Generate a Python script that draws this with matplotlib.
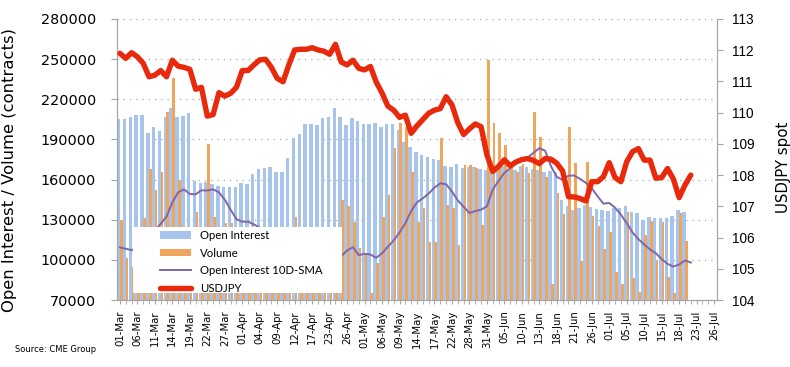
import numpy as np
import pandas as pd
import matplotlib
matplotlib.use("Agg")
import matplotlib.pyplot as plt
from matplotlib.patches import Patch, Rectangle
from matplotlib.lines import Line2D

# ---- categories (CME trading days) ----
holidays = ["2019-04-19", "2019-05-27", "2019-07-04"]
dates = pd.bdate_range("2019-03-01", "2019-07-26", freq="C", holidays=holidays)
tick_labels = [d.strftime("%d-%b") for d in dates[::3]]

# ---- series ----
open_interest = [
    205300, 205000, 207000, 208000, 208500, 195000, 199500, 196300, 207000, 213200,
    207000, 207800, 209500, 159100, 157600, 158400, 156600, 155200, 154700, 154700,
    154200, 157100, 156400, 163900, 167900, 168400, 169100, 165900, 165900, 175800,
    190800, 194000, 201300, 201300, 200800, 205700, 207000, 213700, 207000, 200800,
    205700, 203700, 201300, 201300, 202000, 199500, 201300, 201300, 197000, 188300,
    184600, 180800, 178300, 177100, 175300, 174600, 170400, 169600, 171300, 168900,
    169600, 169600, 167900, 167000, 166000, 168000, 170000, 168000, 167000, 170000,
    169500, 168000, 167000, 166000, 166500, 165500, 145000, 140000, 137300, 138500,
    141000, 139300, 138000, 137300, 136800, 138500, 138500, 140000, 136000, 134800,
    130000, 132300, 131100, 131100, 131100, 132500, 137200, 136000,
]
volume = [
    130000, 101600, 95000, 88000, 131000, 168000, 152000, 166000, 210700, 236100,
    160000, 110000, 95000, 136000, 105000, 186300, 132300, 100000, 127200, 127200,
    112000, 98000, 85000, 105000, 92000, 110000, 88000, 96000, 102000, 90000,
    132000, 100000, 92000, 108000, 95000, 112000, 99000, 118000, 144700, 140000,
    128000, 108600, 104000, 75000, 97400, 132300, 148500, 183400, 202500, 199000,
    166000, 128500, 138500, 113500, 113500, 190800, 141000, 138500, 111000, 170800,
    170800, 168400, 126000, 249300, 202500, 194500, 185800, 171000, 166000, 172000,
    165000, 210700, 192000, 162000, 82000, 150000, 134500, 199500, 172300, 99500,
    173000, 132800, 125000, 108200, 121000, 91200, 82000, 135500, 86200, 76200,
    118500, 129000, 99900, 128000, 87400, 75500, 135000, 113800,
]
oi_sma_10d = [
    109300, 108300, 107300, 108500, 112000, 116500, 121500, 127000, 132300, 143000,
    150500, 152700, 149200, 149000, 152000, 151800, 152700, 150500, 145000, 137500,
    130500, 128500, 128500, 126500, 124000, 121000, 118000, 115500, 113500, 112000,
    111000, 110000, 109000, 108000, 107000, 106000, 105000, 104000, 102800, 107000,
    109500, 103500, 104500, 104000, 101500, 105000, 109800, 114500, 120500, 127500,
    136500, 143000, 146000, 149500, 154000, 157200, 156500, 151000, 144500, 139700,
    135000, 136500, 137500, 140000, 152500, 159000, 165000, 168500, 172200, 174000,
    176500, 180000, 183500, 181500, 170000, 162000, 159800, 162900, 163000, 160500,
    157500, 153500, 147500, 142000, 142500, 139000, 133800, 127500, 120500, 115500,
    111500, 107800, 105000, 100500, 97000, 95000, 96500, 99600, 98000,
]
usdjpy = [
    111.90, 111.74, 111.92, 111.79, 111.58, 111.15, 111.20, 111.35, 111.15, 111.68,
    111.49, 111.45, 111.39, 110.75, 110.81, 109.89, 109.94, 110.64, 110.53, 110.62,
    110.81, 111.35, 111.35, 111.53, 111.69, 111.71, 111.45, 111.10, 110.99, 111.53,
    112.01, 112.03, 112.03, 112.08, 112.01, 111.97, 111.87, 112.19, 111.62, 111.53,
    111.68, 111.42, 111.37, 111.48, 110.98, 110.63, 110.21, 110.08, 109.85, 109.92,
    109.34, 109.58, 109.78, 109.98, 110.08, 110.13, 110.51, 110.25, 109.68, 109.30,
    109.48, 109.64, 109.55, 108.65, 108.12, 108.28, 108.49, 108.30, 108.42, 108.50,
    108.53, 108.47, 108.37, 108.53, 108.51, 108.38, 108.13, 107.31, 107.30, 107.25,
    107.17, 107.79, 107.79, 107.95, 108.40, 107.92, 107.79, 108.43, 108.75, 108.85,
    108.48, 108.48, 107.90, 107.92, 108.21, 107.88, 107.28, 107.68, 108.00,
]

C_OI = "#a6c4ec"
C_VOL = "#f0a55d"
C_SMA = "#8066a8"
C_FX = "#e8290b"
C_AX = "#a6a6a6"

fig = plt.figure(figsize=(7.9, 3.67), dpi=100)
ax = fig.add_axes([117 / 790, 67 / 367, 600 / 790, 281 / 367])
x = np.arange(len(dates))

nb = len(open_interest)
ax.bar(x[:nb] - 0.2, open_interest, width=0.6, color=C_OI, zorder=2, linewidth=0)
ax.bar(x[:nb] + 0.22, volume, width=0.46, color=C_VOL, zorder=3, linewidth=0)
ax.plot(x[:len(oi_sma_10d)], oi_sma_10d, color=C_SMA, lw=1.4, zorder=4)

ax.set_xlim(-0.5, len(dates) - 0.5)
ax.set_ylim(70000, 280000)
ax.set_yticks(np.arange(70000, 280001, 30000))
ax.set_yticklabels([str(v) for v in range(70000, 280001, 30000)],
                   fontsize=10.4, family="DejaVu Sans")
ax.yaxis.grid(True, linestyle=(0, (1, 4)), color="#a8a8a8", lw=0.9, zorder=0)
ax.set_axisbelow(True)

ax.set_xticks(x[::3])
ax.set_xticklabels(tick_labels, rotation=90, fontsize=7.3, family="DejaVu Sans")
ax.set_xticks(x, minor=True)
ax.tick_params(axis="x", which="both", length=3, color=C_AX, pad=4.5)
ax.tick_params(axis="y", length=4, color=C_AX, pad=11)

ax.spines["top"].set_visible(False)
for s in ["left", "bottom", "right"]:
    ax.spines[s].set_color(C_AX)

ax.set_ylabel("Open Interest / Volume (contracts)", fontsize=11.8, family="DejaVu Sans")
ax.yaxis.set_label_coords(-0.166, 0.463)

ax2 = ax.twinx()
ax2.plot(x[:len(usdjpy)], usdjpy, color=C_FX, lw=3.9, solid_joinstyle="round",
         solid_capstyle="round", zorder=5)
ax2.set_ylim(104, 113)
ax2.set_yticks(np.arange(104, 114, 1))
ax2.set_yticklabels([str(v) for v in range(104, 114)], fontsize=9.8,
                    family="Liberation Sans")
ax2.tick_params(axis="y", length=4, color=C_AX, pad=7)
ax2.spines["top"].set_visible(False)
for s in ["left", "bottom", "right"]:
    ax2.spines[s].set_color(C_AX)
ax2.set_ylabel("USDJPY spot", fontsize=10.8, family="DejaVu Sans", rotation=90)
ax2.yaxis.set_label_coords(1.098, 0.473)

# legend with white box
box = Rectangle((133 / 790, 1 - 293 / 367), 209 / 790, 66 / 367,
                transform=fig.transFigure, facecolor="white", edgecolor="none",
                zorder=8, clip_on=False)
ax2.add_patch(box)
handles = [
    Patch(facecolor=C_OI, edgecolor="none"),
    Patch(facecolor=C_VOL, edgecolor="none"),
    Line2D([], [], color=C_SMA, lw=1.4),
    Line2D([], [], color=C_FX, lw=3.9, solid_capstyle="round"),
]
labels = ["Open Interest", "Volume", "Open Interest 10D-SMA", "USDJPY"]
leg = ax2.legend(handles, labels, loc="upper left",
                 bbox_to_anchor=(160 / 790, 1 - 230 / 367),
                 bbox_transform=fig.transFigure, frameon=False, borderpad=0,
                 borderaxespad=0, handlelength=2.7, handleheight=0.6,
                 handletextpad=0.8, labelspacing=0.58,
                 prop={"family": "Lato", "size": 8.2})
leg.set_zorder(9)

fig.text(15 / 790, 1 - 349 / 367, "Source: CME Group", fontsize=6,
         family="DejaVu Sans", va="center", ha="left")

fig.savefig("out.png", dpi=100)
